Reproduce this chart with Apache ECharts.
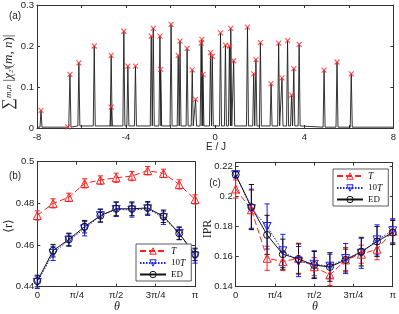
<!DOCTYPE html>
<html><head><meta charset="utf-8">
<script src="https://cdn.jsdelivr.net/npm/echarts@6/dist/echarts.min.js"></script>
<style>html,body{margin:0;padding:0;background:#fff}#c{width:399px;height:314px}</style>
</head><body><div id="c"></div>
<script>
// ---- Panel (a): spectrum peaks (E/J, height) ----
const spectrumE = [-7.82,-6.62,-6.52,-6.12,-5.43,-4.67,-4.67,-4.10,-3.92,-3.58,-2.87,-2.78,-2.48,-2.45,-1.98,-1.66,-1.58,-1.26,-1.03,-0.88,-0.63,-0.60,-0.55,-0.21,-0.13,0.24,0.46,0.64,0.70,0.83,1.45,1.73,1.83,2.03,2.51,2.85,3.00,3.25,3.43,3.53,3.77,4.89,5.47,6.11];
const spectrumH = [0.043,0.003,0.131,0.159,0.200,0.177,0.051,0.236,0.151,0.151,0.224,0.243,0.224,0.143,0.253,0.177,0.212,0.194,0.142,0.070,0.207,0.216,0.131,0.184,0.175,0.232,0.202,0.200,0.243,0.164,0.246,0.132,0.167,0.208,0.108,0.207,0.122,0.213,0.080,0.145,0.204,0.141,0.161,0.132];
// background level of the curve between peaks (region start E, level)
const baseStartE = [-8, -6.3, 4.2];
const baseLevel = [0.002, 0.005, 0.002];
const xTicksA = [-8,-4,0,4,8];

// ---- Panels (b),(c): theta in units of pi ----
const thetaPi = [0,0.1,0.2,0.3,0.4,0.5,0.6,0.7,0.8,0.9,1.0];
const thetaLabels = {0:'0',0.25:'π/4',0.5:'π/2',0.75:'3π/4',1:'π'};
// <r>
const rT     = [0.4742,0.4800,0.4829,0.4896,0.4912,0.4923,0.4931,0.4957,0.4944,0.4891,0.4819];
const rTerr  = [0.0022,0.0022,0.0020,0.0022,0.0020,0.0022,0.0022,0.0020,0.0020,0.0022,0.0022];
const r10T   = [0.4421,0.4560,0.4624,0.4678,0.4741,0.4771,0.4768,0.4774,0.4731,0.4656,0.4547];
const r10Terr= [0.0030,0.0034,0.0030,0.0034,0.0032,0.0034,0.0034,0.0032,0.0032,0.0030,0.0034];
const rED    = [0.4427,0.4573,0.4627,0.4688,0.4741,0.4774,0.4774,0.4778,0.4738,0.4656,0.4555];
const rEDerr = [0.0028,0.0030,0.0030,0.0030,0.0030,0.0033,0.0033,0.0030,0.0030,0.0030,0.0030];
// IPR
const ipT     = [0.2049,0.1911,0.1589,0.1567,0.1589,0.1533,0.1478,0.1578,0.1616,0.1649,0.1769];
const ipTerr  = [0.006,0.013,0.008,0.006,0.010,0.006,0.007,0.007,0.006,0.007,0.008];
const ip10T   = [0.2144,0.1918,0.1800,0.1638,0.1567,0.1549,0.1536,0.1587,0.1622,0.1711,0.1771];
const ip10Terr= [0.002,0.013,0.015,0.011,0.010,0.009,0.008,0.010,0.010,0.010,0.008];
const ipED    = [0.2144,0.1929,0.1744,0.1616,0.1584,0.1544,0.1531,0.1578,0.1633,0.1700,0.1760];
const ipEDerr = [0.002,0.015,0.013,0.010,0.010,0.009,0.0095,0.008,0.0095,0.010,0.008];

const RED='#ff2020', BLUE='#1a1aff', BLK='#111';
const AX='#333';
const SANS='"Liberation Sans", Arial, sans-serif';
const SERIF='"Liberation Serif", "DejaVu Serif", serif';
const CLEAR='rgba(255,255,255,0)';

function baseAt(e){let v=baseLevel[0];for(let i=0;i<baseStartE.length;i++){if(e>=baseStartE[i])v=baseLevel[i];}return v;}
const w=0.045;
const lineData=[[-8,baseAt(-8)]];
for(let i=0;i<spectrumE.length;i++){const e=spectrumE[i];lineData.push([e-w,baseAt(e)],[e,spectrumH[i]],[e+w,baseAt(e)]);}
lineData.push([8,baseAt(8)]);
const marks=spectrumE.map((e,i)=>[e,spectrumH[i]]);

function errData(y,err){return thetaPi.map((t,i)=>[t,y[i]-err[i],y[i]+err[i]]);}
function errSeries(y,err,color,xi,yi){
  return {type:'custom',name:'err',xAxisIndex:xi,yAxisIndex:yi,silent:true,z:2,
    data:errData(y,err),encode:{x:0,y:[1,2]},
    renderItem:function(params,api){
      const x=api.value(0),lo=api.value(1),hi=api.value(2);
      const p1=api.coord([x,lo]),p2=api.coord([x,hi]);const c=2.6;
      const st={stroke:color,lineWidth:1};
      return {type:'group',children:[
        {type:'line',shape:{x1:p1[0],y1:p1[1],x2:p2[0],y2:p2[1]},style:st},
        {type:'line',shape:{x1:p1[0]-c,y1:p1[1],x2:p1[0]+c,y2:p1[1]},style:st},
        {type:'line',shape:{x1:p2[0]-c,y1:p2[1],x2:p2[0]+c,y2:p2[1]},style:st}]};
    }};
}
const TRI_UP='path://M5,0L10,8.66L0,8.66Z';
const TRI_DOWN='path://M0,0L10,0L5,8.66Z';
function lineSeries(name,y,color,dash,symbol,xi,yi){
  return {type:'line',name:name,xAxisIndex:xi,yAxisIndex:yi,z:3,
    data:thetaPi.map((t,i)=>[t,y[i]]),
    symbol:symbol,symbolSize:symbol==='circle'?7:8,showAllSymbol:true,
    lineStyle:{color:color,width:1,type:dash},
    itemStyle:{color:CLEAR,borderColor:color,borderWidth:1},
    emphasis:{disabled:true},animation:false};
}
function xAxisTheta(grid,pos,labels){
  return {type:'value',gridIndex:grid,position:pos,min:0,max:1,interval:0.25,
    axisLine:{show:true,onZero:false,lineStyle:{color:AX,width:1}},
    axisTick:{show:true,inside:true,length:3,lineStyle:{color:AX}},
    axisLabel:{show:labels,margin:4,fontSize:9.5,color:'#222',fontFamily:SANS,formatter:v=>thetaLabels[Math.round(v*100)/100]||''},
    splitLine:{show:false}};
}
function yAxisV(grid,pos,labels,min,max,vals){
  return {type:'value',gridIndex:grid,position:pos,min:min,max:max,
    axisLine:{show:true,onZero:false,lineStyle:{color:AX,width:1}},
    axisTick:{show:true,inside:true,length:3,lineStyle:{color:AX},customValues:vals},
    axisLabel:{show:labels,margin:3,fontSize:9.5,color:'#222',fontFamily:SANS,customValues:vals,formatter:v=>String(Math.round(v*1000)/1000)},
    splitLine:{show:false}};
}
function legendOf(left,top){
  return {left:left,top:top,orient:'vertical',
    data:[
      {name:'T',itemStyle:{color:CLEAR,borderColor:RED,borderWidth:1}},
      {name:'10T',itemStyle:{color:CLEAR,borderColor:BLUE,borderWidth:1}},
      {name:'ED',itemStyle:{color:CLEAR,borderColor:BLK,borderWidth:1}}],
    itemWidth:26,itemHeight:8,itemGap:2,itemTextGap:12,
    padding:[2,6,2,3],borderColor:'#333',borderWidth:0.8,backgroundColor:'#fff',selectedMode:false,
    textStyle:{fontSize:9.5,fontFamily:SERIF,color:'#111',rich:{it:{fontStyle:'italic',fontSize:9.5,fontFamily:SERIF},n:{fontSize:9,fontFamily:SERIF}}},
    formatter:n=>n==='T'?'{it|T}':(n==='10T'?'{n|10}{it|T}':'{n|ED}')};
}

const option={
  animation:false,
  grid:[
    {left:37,right:5,top:4,bottom:186},
    {left:37.3,right:204,top:161.7,bottom:27.3},
    {left:235.7,right:4.7,top:162.5,bottom:27.3}
  ],
  xAxis:[
    {type:'value',gridIndex:0,position:'bottom',min:-8,max:8,interval:2,
      axisLine:{show:true,onZero:false,lineStyle:{color:AX}},axisTick:{inside:true,length:3,lineStyle:{color:AX}},
      axisLabel:{margin:4,fontSize:9.5,color:'#222',fontFamily:SANS,formatter:v=>xTicksA.indexOf(v)>=0?String(v):''},splitLine:{show:false}},
    {type:'value',gridIndex:0,position:'top',min:-8,max:8,interval:2,
      axisLine:{show:true,onZero:false,lineStyle:{color:AX}},axisTick:{inside:true,length:3,lineStyle:{color:AX}},
      axisLabel:{show:false},splitLine:{show:false}},
    xAxisTheta(1,'bottom',true),xAxisTheta(1,'top',false),
    xAxisTheta(2,'bottom',true),xAxisTheta(2,'top',false)
  ],
  yAxis:[
    yAxisV(0,'left',true,0,0.3,[0,0.1,0.2,0.3]),yAxisV(0,'right',false,0,0.3,[0,0.1,0.2,0.3]),
    yAxisV(1,'left',true,0.44,0.5,[0.44,0.46,0.48,0.5]),yAxisV(1,'right',false,0.44,0.5,[0.44,0.46,0.48,0.5]),
    yAxisV(2,'left',true,0.14,0.2225,[0.14,0.16,0.18,0.2,0.22]),yAxisV(2,'right',false,0.14,0.2225,[0.14,0.16,0.18,0.2,0.22])
  ],
  legend:[legendOf(136,244),legendOf(333,169)],
  series:[
    {type:'line',name:'spectrum',xAxisIndex:0,yAxisIndex:0,data:lineData,showSymbol:false,silent:true,
      lineStyle:{color:'#1e1e1e',width:0.9},z:2},
    {type:'scatter',name:'marks',xAxisIndex:0,yAxisIndex:0,data:marks,symbol:'path://M0,0L10,10M10,0L0,10',symbolSize:5,
      itemStyle:{color:'rgba(0,0,0,0)',borderColor:'#ff2a2a',borderWidth:1.1},z:3,silent:true},
    errSeries(rT,rTerr,RED,2,2),errSeries(r10T,r10Terr,BLUE,2,2),errSeries(rED,rEDerr,BLK,2,2),
    lineSeries('T',rT,RED,[6,3],TRI_UP,2,2),
    lineSeries('10T',r10T,BLUE,[1.5,1.5],TRI_DOWN,2,2),
    lineSeries('ED',rED,BLK,'solid','circle',2,2),
    errSeries(ipT,ipTerr,RED,4,4),errSeries(ip10T,ip10Terr,BLUE,4,4),errSeries(ipED,ipEDerr,BLK,4,4),
    lineSeries('T',ipT,RED,[6,3],TRI_UP,4,4),
    lineSeries('10T',ip10T,BLUE,[1.5,1.5],TRI_DOWN,4,4),
    lineSeries('ED',ipED,BLK,'solid','circle',4,4)
  ],
  graphic:[
    {type:'text',x:15,y:16,style:{text:'(a)',font:'10px '+SANS,fill:'#222',align:'center',verticalAlign:'middle'}},
    {type:'text',x:15,y:176,style:{text:'(b)',font:'10px '+SANS,fill:'#222',align:'center',verticalAlign:'middle'}},
    {type:'text',x:215,y:183,style:{text:'(c)',font:'10px '+SANS,fill:'#222',align:'center',verticalAlign:'middle'}},
    {type:'text',x:216,y:147,style:{text:'E / J',font:'10px '+SANS,fill:'#222',align:'center',verticalAlign:'middle'}},
    {type:'text',x:117,y:306.5,style:{text:'θ',font:'italic 12px '+SERIF,fill:'#222',align:'center',verticalAlign:'middle'}},
    {type:'text',x:315,y:306.5,style:{text:'θ',font:'italic 12px '+SERIF,fill:'#222',align:'center',verticalAlign:'middle'}},
    {type:'text',x:9,y:226,rotation:Math.PI/2,style:{text:'⟨r⟩',font:'12px '+SERIF,fill:'#222',align:'center',verticalAlign:'middle'}},
    {type:'text',x:208,y:229,rotation:Math.PI/2,style:{text:'IPR',font:'12px '+SERIF,fill:'#222',align:'center',verticalAlign:'middle'}},
    {type:'text',x:9,y:72,rotation:Math.PI/2,style:{text:'{s|∑}{b|m,n} {t||}{c|χ}{b|₂}{d|ᶠ}{t|(}{c|m}{t|, }{c|n}{t|)|}',align:'center',verticalAlign:'middle',
      rich:{s:{fontSize:16,fontFamily:SERIF,fill:'#222'},b:{fontSize:9,fontFamily:SERIF,fontStyle:'italic',fill:'#222'},
        t:{fontSize:13,fontFamily:SERIF,fill:'#222'},c:{fontSize:13,fontFamily:SERIF,fontStyle:'italic',fill:'#222'},d:{fontSize:10,fontFamily:SERIF,fontStyle:'italic',fill:'#222'}}}}
  ]
};
const chart=echarts.init(document.getElementById('c'),null,{renderer:'canvas'});
chart.setOption(option);
</script></body></html>
